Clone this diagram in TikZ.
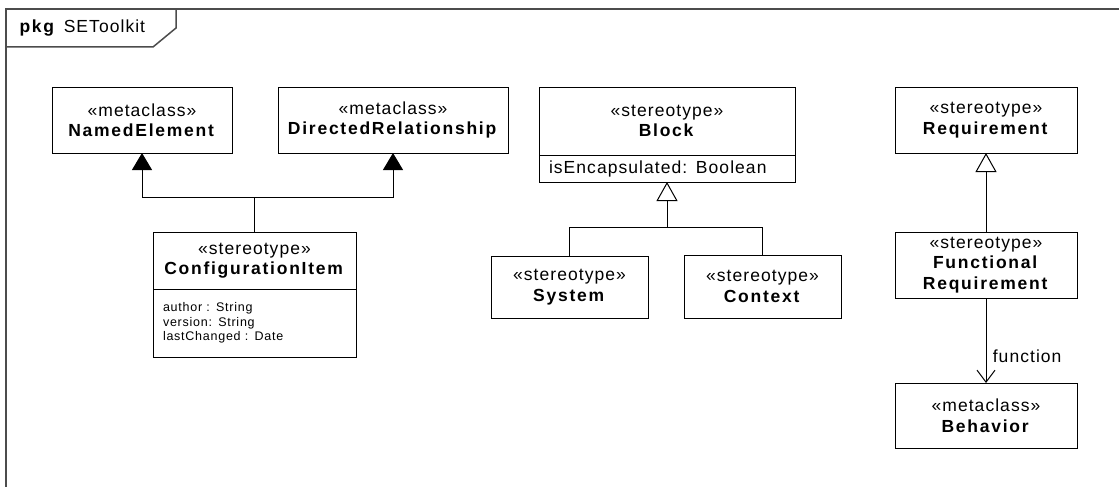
\documentclass[tikz,border=0pt]{standalone}
\usepackage{fontspec}
\setmainfont{Liberation Sans}[LetterSpace=6, BoldFeatures={LetterSpace=10}]
\usetikzlibrary{arrows.meta}

\begin{document}
\begin{tikzpicture}[x=1pt, y=-1pt,
    every node/.style={font=\fontsize{17.5}{20.5}\selectfont},
    umlbox/.style={draw, line width=1pt, align=center, inner sep=0pt, outer sep=0pt},
    attrbox/.style={draw, line width=1pt, align=left, inner xsep=10pt, inner ysep=0pt, outer sep=0pt, anchor=north},
    frame/.style={draw=black!70, line width=1.5pt},
    link/.style={line width=1pt},
    extendsto/.style={link, -{Triangle[length=17pt, width=20pt]}},
    generalizes/.style={link, -{Triangle[open, length=19pt, width=21pt, fill=white]}},
    assoc/.style={link, -{Straight Barb[length=12pt, width=18pt]}}]

    \useasboundingbox (0,0) rectangle (1119,487);

    % package frame and its tab
    \draw[frame] (6,487) -- (6,9) -- (1119,9);
    \draw[frame] (6,47) -- (153,47) -- (176,28) -- (176,9);
    \node[anchor=west] (pkglabel) at (16,28) {\textbf{pkg}\hspace{0.45em}SEToolkit};

    % metaclasses and configuration item
    \node[umlbox, minimum width=180pt, minimum height=66pt] (namedel) at (142,120)
        {«metaclass»\\\textbf{NamedElement}};
    \node[umlbox, minimum width=230pt, minimum height=66pt] (dirrel) at (393,120)
        {«metaclass»\\\textbf{DirectedRelationship}};
    \node[umlbox, minimum width=203pt, minimum height=57pt] (cfgitem) at (254.5,260.5)
        {«stereotype»\\\textbf{ConfigurationItem}};
    \node[attrbox, text width=183pt, minimum height=68pt, font=\fontsize{12.5}{14.6}\selectfont] (cfgattr) at (cfgitem.south)
        {author : String\\version: String\\lastChanged : Date};

    \coordinate (cfgbus) at (254.5,197);
    \draw[link] (cfgitem.north) -- (cfgbus);
    \draw[extendsto] (cfgbus) -| (namedel.south);
    \draw[extendsto] (cfgbus) -| (dirrel.south);

    % block and its specializations
    \node[umlbox, minimum width=256pt, minimum height=68pt] (block) at (667,121)
        {«stereotype»\\\textbf{Block}};
    \node[attrbox, text width=236pt, minimum height=27pt] (blockattr) at (block.south)
        {isEncapsulated: Boolean};
    \node[umlbox, minimum width=157pt, minimum height=62pt] (system) at (569.5,287)
        {«stereotype»\\\textbf{System}};
    \node[umlbox, minimum width=157pt, minimum height=63pt] (context) at (762.5,286.5)
        {«stereotype»\\\textbf{Context}};

    \coordinate (blockbus) at (667,227);
    \draw[link] (system.north) |- (blockbus);
    \draw[link] (context.north) |- (blockbus);
    \draw[generalizes] (blockbus) -- (blockattr.south);

    % requirements
    \node[umlbox, minimum width=182pt, minimum height=66pt] (req) at (986,120)
        {«stereotype»\\\textbf{Requirement}};
    \node[umlbox, minimum width=182pt, minimum height=66pt] (funcreq) at (986,265)
        {«stereotype»\\\textbf{Functional}\\\textbf{Requirement}};
    \node[umlbox, minimum width=182pt, minimum height=65pt] (behavior) at (986,415.5)
        {«metaclass»\\\textbf{Behavior}};

    \draw[generalizes] (funcreq.north) -- (req.south);
    \draw[assoc] (funcreq.south) -- (behavior.north)
        node[pos=0.69, right=3pt] (funclabel) {function};
\end{tikzpicture}
\end{document}
